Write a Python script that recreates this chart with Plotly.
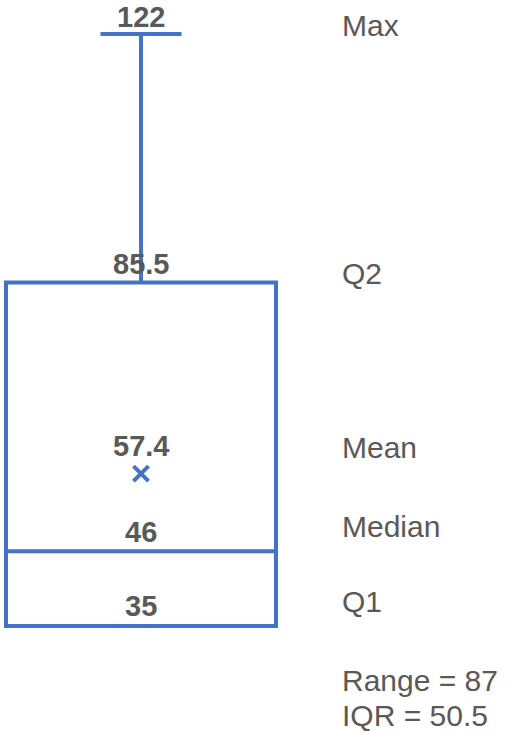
import plotly.graph_objects as go

# Five-number summary plus mean
stat_names = ["Max", "Q2", "Mean", "Median", "Q1"]
stat_values = [122, 85.5, 57.4, 46, 35]
minimum = 35

maximum, q3, mean, median, q1 = stat_values
data_range = maximum - minimum
iqr = q3 - q1

BLUE = "#4472C4"
GREY = "#595959"
FONT = "Liberation Sans, Arial, sans-serif"

fig = go.Figure()

fig.add_trace(go.Box(
    x=[0],
    q1=[q1], median=[median], q3=[q3],
    lowerfence=[minimum], upperfence=[maximum],
    width=1,
    whiskerwidth=0.30,
    boxpoints=False,
    fillcolor="rgba(0,0,0,0)",
    line=dict(color=BLUE, width=4),
    hoverinfo="skip",
    showlegend=False,
))

fig.add_trace(go.Scatter(
    x=[0], y=[mean],
    mode="markers",
    marker=dict(symbol="x-thin", size=15, line=dict(color=BLUE, width=4)),
    hoverinfo="skip",
    showlegend=False,
))

# value labels above each mark, names to the right
value_shift = {"Max": 17, "Q2": 18, "Mean": 28, "Median": 19, "Q1": 20}
name_shift = {"Max": 9, "Q2": 9, "Mean": 26, "Median": 25, "Q1": 25}
NAME_X = 0.737

for name, val in zip(stat_names, stat_values):
    fig.add_annotation(
        x=0, y=val, text=f"<b>{val:g}</b>", showarrow=False,
        xanchor="center", yanchor="middle", yshift=value_shift[name],
        font=dict(family=FONT, size=29, color=GREY),
    )
    fig.add_annotation(
        x=NAME_X, y=val, text=name, showarrow=False,
        xanchor="left", yanchor="middle", yshift=name_shift[name],
        font=dict(family=FONT, size=30, color=GREY),
    )

fig.add_annotation(
    x=NAME_X, y=minimum, text=f"Range = {data_range:g}", showarrow=False,
    xanchor="left", yanchor="middle", yshift=-54,
    font=dict(family=FONT, size=30, color=GREY),
)
fig.add_annotation(
    x=NAME_X, y=minimum, text=f"IQR = {iqr:g}", showarrow=False,
    xanchor="left", yanchor="middle", yshift=-89,
    font=dict(family=FONT, size=30, color=GREY),
)

fig.update_layout(
    width=510, height=734,
    margin=dict(l=0, r=0, t=0, b=0),
    paper_bgcolor="white", plot_bgcolor="white",
    xaxis=dict(range=[-0.5222, 1.3667], visible=False, fixedrange=True),
    yaxis=dict(range=[19.13, 127.0], visible=False, fixedrange=True),
)

fig.write_html("out.html")
